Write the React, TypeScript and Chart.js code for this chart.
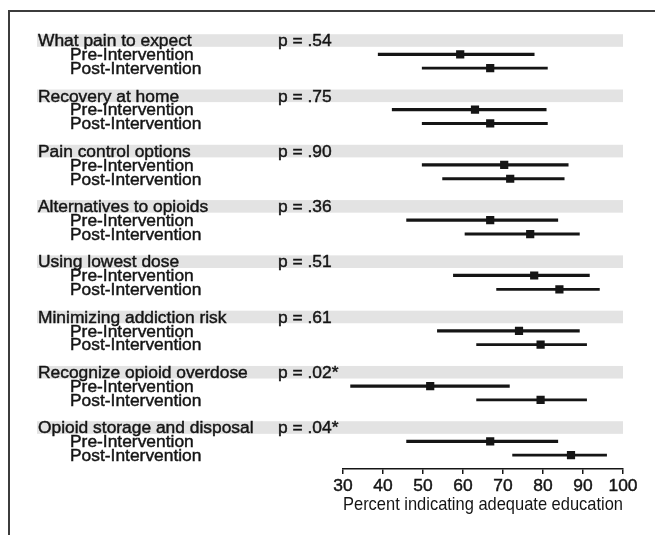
import React, { useEffect, useRef } from "react";
import { Chart, registerables } from "chart.js";

Chart.register(...registerables);

const categories = [
  "What pain to expect",
  "Recovery at home",
  "Pain control options",
  "Alternatives to opioids",
  "Using lowest dose",
  "Minimizing addiction risk",
  "Recognize opioid overdose",
  "Opioid storage and disposal",
];
const pValues = ["p = .54", "p = .75", "p = .90", "p = .36", "p = .51", "p = .61", "p = .02*", "p = .04*"];
const subLabels = ["Pre-Intervention", "Post-Intervention"];

const preMean = [59.3, 63.0, 70.3, 66.8, 77.8, 74.0, 51.8, 66.8];
const preLow = [38.8, 42.3, 49.8, 45.9, 57.6, 53.6, 31.9, 45.9];
const preHigh = [77.8, 80.8, 86.3, 83.7, 91.6, 89.1, 71.6, 83.7];

const postMean = [66.8, 66.8, 71.8, 76.8, 84.1, 79.4, 79.4, 87.0];
const postLow = [49.8, 49.8, 54.9, 60.5, 68.4, 63.4, 63.4, 72.4];
const postHigh = [81.1, 81.1, 85.3, 89.1, 94.1, 90.9, 90.9, 95.9];

const xTicks = [30, 40, 50, 60, 70, 80, 90, 100];
const xTitle = "Percent indicating adequate education";

const FONT = "'Liberation Sans', Arial, Helvetica, sans-serif";
const INK = "#151515";

// slot layout: each category takes 4 rows (header, pre, post, gap); one spare row above and below
const NSLOTS = categories.length * 4 + 1;
const slotLabels = Array.from({ length: NSLOTS }, (_, i) => String(i));
const idx = (g: number, k: number) => g * 4 + k + 1; // k: 0 header, 1 pre, 2 post

function rowData(vals: (number | number[])[], k: number) {
  const arr: any[] = new Array(NSLOTS).fill(null);
  vals.forEach((v, g) => {
    arr[idx(g, k)] = v;
  });
  return arr;
}

function heavyText(ctx: CanvasRenderingContext2D, t: string, x: number, y: number) {
  ctx.fillText(t, x, y);
  ctx.strokeText(t, x, y);
}

const labelsPlugin = {
  id: "forestLabels",
  beforeDatasetsDraw(chart: any) {
    const { ctx, scales } = chart;
    const y = scales.y;
    const x = scales.x;
    ctx.save();
    ctx.fillStyle = "#e3e3e3";
    categories.forEach((_, g) => {
      const cy = y.getPixelForValue(idx(g, 0));
      ctx.fillRect(37, cy - 6.3, x.right - 37, 12.6);
    });
    ctx.restore();
  },
  afterDraw(chart: any) {
    const { ctx, scales } = chart;
    const y = scales.y;
    ctx.save();
    ctx.fillStyle = INK;
    ctx.strokeStyle = INK;
    ctx.lineWidth = 0.45;
    ctx.font = `17.4px ${FONT}`;
    ctx.textBaseline = "middle";
    ctx.textAlign = "left";
    categories.forEach((c, g) => {
      const hy = y.getPixelForValue(idx(g, 0)) + 1;
      heavyText(ctx, c, 38, hy);
      heavyText(ctx, pValues[g], 278, hy);
      heavyText(ctx, subLabels[0], 70, y.getPixelForValue(idx(g, 1)) + 1);
      heavyText(ctx, subLabels[1], 70, y.getPixelForValue(idx(g, 2)) + 1);
    });
    // frame
    ctx.strokeStyle = "#3c3c3c";
    ctx.lineWidth = 2;
    ctx.beginPath();
    ctx.moveTo(9, 535);
    ctx.lineTo(9, 11);
    ctx.lineTo(655, 11);
    ctx.stroke();
    ctx.restore();
  },
};

export default function App() {
  const ref = useRef<HTMLCanvasElement>(null);
  useEffect(() => {
    if (!ref.current) return;
    const chart = new Chart(ref.current, {
      type: "bar",
      data: {
        labels: slotLabels,
        datasets: [
          {
            type: "bar",
            label: "Pre CI",
            data: rowData(preLow.map((l, i) => [l, preHigh[i]]), 1),
            backgroundColor: INK,
            barThickness: 2.6,
            indexAxis: "y",
            grouped: false,
            order: 2,
          } as any,
          {
            type: "bar",
            label: "Post CI",
            data: rowData(postLow.map((l, i) => [l, postHigh[i]]), 2),
            backgroundColor: INK,
            barThickness: 2.2,
            indexAxis: "y",
            grouped: false,
            order: 2,
          } as any,
          {
            type: "line",
            label: "Pre mean",
            data: rowData(preMean, 1),
            showLine: false,
            indexAxis: "y",
            pointStyle: "rect",
            pointRadius: 5.8,
            pointBorderWidth: 0,
            pointBackgroundColor: INK,
            order: 1,
          } as any,
          {
            type: "line",
            label: "Post mean",
            data: rowData(postMean, 2),
            showLine: false,
            indexAxis: "y",
            pointStyle: "rect",
            pointRadius: 5.8,
            pointBorderWidth: 0,
            pointBackgroundColor: INK,
            order: 1,
          } as any,
        ],
      },
      options: {
        indexAxis: "y",
        animation: false,
        responsive: false,
        devicePixelRatio: 1,
        layout: { padding: { left: 343, right: 32, top: 26.7, bottom: 0 } },
        plugins: { legend: { display: false }, tooltip: { enabled: false } },
        scales: {
          y: {
            type: "category",
            offset: false,
            display: false,
            grid: { offset: false },
          },
          x: {
            type: "linear",
            min: 30,
            max: 100,
            afterBuildTicks: (s: any) => {
              s.ticks = xTicks.map((v) => ({ value: v }));
            },
            afterFit: (s: any) => {
              s.height = 66;
            },
            ticks: {
              color: INK,
              font: { size: 17.4, family: FONT },
              padding: 1.5,
              maxRotation: 0,
              textStrokeColor: INK,
              textStrokeWidth: 0.45,
            },
            grid: { drawOnChartArea: false, drawTicks: true, tickLength: 5, color: INK, lineWidth: 1.5 },
            border: { display: true, color: INK, width: 1.5 },
            title: {
              display: true,
              text: xTitle,
              color: INK,
              font: { size: 18.2, family: FONT },
              padding: { top: 0, bottom: 19.5 },
            },
          },
        },
      } as any,
      plugins: [labelsPlugin],
    });
    return () => chart.destroy();
  }, []);
  return (
    <div style={{ position: "fixed", left: 0, top: 0, width: 655, height: 535, background: "#fff" }}>
      <canvas ref={ref} width={655} height={535} style={{ display: "block" }} />
    </div>
  );
}
